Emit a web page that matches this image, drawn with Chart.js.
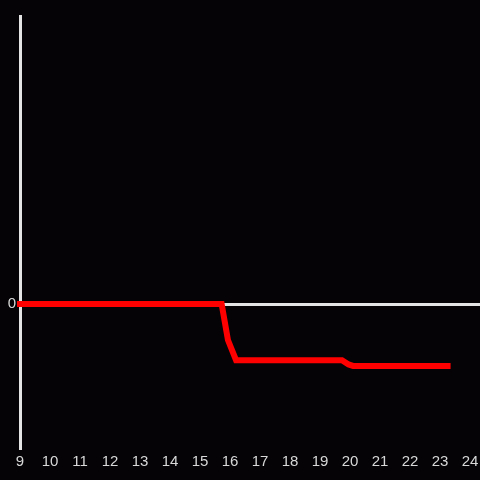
<!DOCTYPE html>
<html>
<head>
<meta charset="utf-8">
<script src="https://cdn.jsdelivr.net/npm/chart.js@4"></script>
<style>
    html, body { margin: 0; padding: 0; background: #050306; }
    #wrap { width: 480px; height: 480px; }
</style>
</head>
<body>
<div id="wrap"><canvas id="lineChart"></canvas></div>
<script>
// hour of day vs level
const hours = [8.9, 15.72, 15.93, 16.2, 19.73, 19.95, 20.1, 23.35];
const levels = [0, 0, -0.25, -0.39, -0.39, -0.42, -0.43, -0.43];
const yTicks = [0];

const axisColor = '#e4e4e4';
const labelColor = '#d8d8d8';

const ctx = document.getElementById('lineChart').getContext('2d');

new Chart(ctx, {
    type: 'line',
    data: {
        datasets: [{
            data: hours.map((h, i) => ({ x: h, y: levels[i] })),
            borderColor: '#ff0000',
            borderWidth: 6,
            pointRadius: 0,
            tension: 0,
            fill: false,
            clip: false
        }]
    },
    options: {
        responsive: true,
        maintainAspectRatio: false,
        animation: false,
        layout: {
            padding: { top: 16, right: 0, left: 0, bottom: 0 }
        },
        plugins: {
            legend: { display: false },
            tooltip: { enabled: false }
        },
        scales: {
            x: {
                type: 'linear',
                min: 9,
                max: 24.33,
                afterFit: scale => {
                    scale.height = 32;
                    scale.paddingLeft = 0;
                    scale.paddingRight = 0;
                },
                border: { display: false },
                grid: { display: false, drawTicks: false },
                ticks: {
                    stepSize: 1,
                    includeBounds: false,
                    autoSkip: false,
                    maxRotation: 0,
                    padding: 5,
                    color: labelColor,
                    font: { family: 'Liberation Sans', size: 15 }
                }
            },
            y: {
                min: -1,
                max: 2,
                afterFit: scale => {
                    scale.width = 20;
                    scale.paddingTop = 0;
                    scale.paddingBottom = 0;
                },
                afterBuildTicks: scale => {
                    scale.ticks = yTicks.map(v => ({ value: v }));
                },
                border: { display: true, color: axisColor, width: 3 },
                grid: {
                    drawTicks: false,
                    lineWidth: 3,
                    color: c => (c.tick && c.tick.value === 0 ? axisColor : 'rgba(0,0,0,0)')
                },
                ticks: {
                    padding: 4,
                    color: labelColor,
                    font: { family: 'Liberation Sans', size: 15 }
                }
            }
        }
    }
});
</script>
</body>
</html>
